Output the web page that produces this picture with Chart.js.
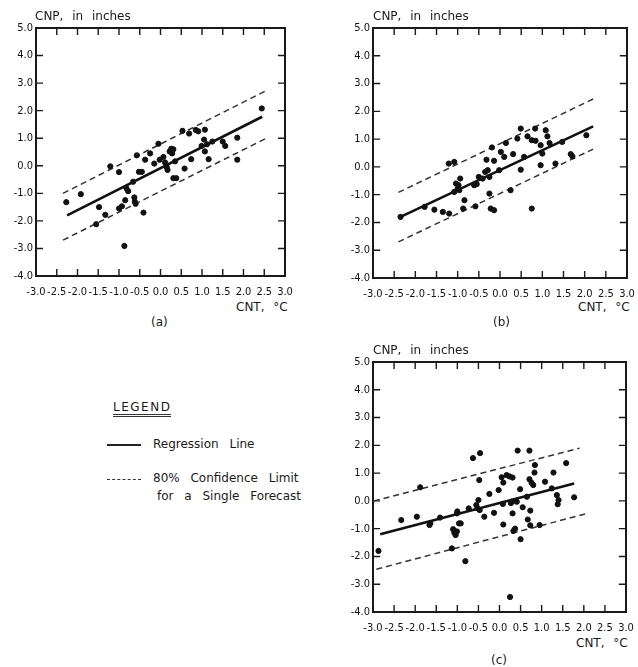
<!DOCTYPE html>
<html>
<head>
<meta charset="utf-8">
<script src="https://cdn.jsdelivr.net/npm/chart.js@4.4.0/dist/chart.umd.min.js"></script>
<style>
  body { margin: 0; background: #fff; width: 638px; height: 667px; position: relative; overflow: hidden;
         font-family: 'DejaVu Sans', sans-serif; color: #1a1a1a; }
  canvas { position: absolute; }
  .t { position: absolute; font-size: 12px; white-space: nowrap; word-spacing: 5px; line-height: 1; }
  .lg { position: absolute; font-size: 12px; white-space: nowrap; word-spacing: 7px; line-height: 1; }
</style>
</head>
<body>
<canvas id="chartA" width="300" height="300" style="left:0;top:0"></canvas>
<canvas id="chartB" width="300" height="300" style="left:337px;top:0"></canvas>
<canvas id="chartC" width="300" height="300" style="left:337px;top:334px"></canvas>

<div class="t" style="left:35px;top:10px">CNP, in inches</div>
<div class="t" style="left:236px;top:301px">CNT, °C</div>
<div class="t" style="left:151px;top:316px">(a)</div>

<div class="t" style="left:373px;top:10px">CNP, in inches</div>
<div class="t" style="left:578px;top:301px">CNT, °C</div>
<div class="t" style="left:493px;top:316px">(b)</div>

<div class="t" style="left:373px;top:344px">CNP, in inches</div>
<div class="t" style="left:576px;top:637px">CNT, °C</div>
<div class="t" style="left:491px;top:654px">(c)</div>

<!-- legend -->
<div class="lg" style="left:113px;top:401px;letter-spacing:1.5px;border-bottom:3px double #333;padding-bottom:1px">LEGEND</div>
<div style="position:absolute;left:107px;top:444px;width:34px;border-top:2.5px solid #222"></div>
<div class="lg" style="left:153px;top:438px">Regression Line</div>
<div style="position:absolute;left:107px;top:479px;width:34px;border-top:1.5px dashed #333"></div>
<div class="lg" style="left:153px;top:472px">80% Confidence Limit</div>
<div class="lg" style="left:157px;top:490px">for a Single Forecast</div>

<script>
// tick labels
var xTickVals = [-3, -2.5, -2, -1.5, -1, -0.5, 0, 0.5, 1, 1.5, 2, 2.5, 3];
var xTickLabels = ['-3.0', '-2.5', '-2.0', '-1.5', '-1.0', '-0.5', '0.0', '0.5', '1.0', '1.5', '2.0', '2.5', '3.0'];
var yTickVals = [-4, -3, -2, -1, 0, 1, 2, 3, 4, 5];
var yTickLabels = ['-4.0', '-3.0', '-2.0', '-1.0', '0.0', '1.0', '2.0', '3.0', '4.0', '5.0'];

// (a)
var cntA = [-2.27,-1.92,-1.48,-1.55,-1.33,-1.21,-1.0,-0.87,-1.0,-0.93,-0.85,-0.82,-0.78,-0.66,-0.63,-0.62,-0.6,-0.57,-0.52,-0.45,-0.41,-0.37,-0.25,-0.15,-0.05,-0.02,0.07,0.11,0.15,0.17,0.22,0.26,0.31,0.28,0.35,0.31,0.38,0.58,0.53,0.69,0.74,0.85,0.91,1.07,1.05,1.07,1.16,0.99,1.12,1.25,1.5,1.56,1.85,1.85,2.44];
var cnpA = [-1.32,-1.03,-1.50,-2.12,-1.78,-0.02,-0.23,-2.91,-1.55,-1.47,-1.25,-0.82,-0.92,-0.58,-1.15,-1.30,-1.38,0.38,-0.22,-0.22,-1.70,0.22,0.45,0.08,0.8,0.22,0.32,0.12,-0.05,-0.15,0.52,0.62,0.6,0.45,0.16,-0.45,-0.45,-0.1,1.27,1.17,0.24,1.3,1.25,1.31,0.95,0.52,0.24,0.72,0.78,0.88,0.88,0.72,1.02,0.22,2.08];
var regA = [[-2.25, -1.8], [2.45, 1.78]];
var upperA = [[-2.35, -1.0], [2.55, 2.73]];
var lowerA = [[-2.35, -2.7], [2.55, 1.0]];

// (b)
var cntB = [-2.35,-1.78,-1.55,-1.35,-1.20,-1.21,-1.08,-0.94,-1.04,-1.0,-0.96,-1.08,-0.84,-0.87,-0.58,-0.55,-0.41,-0.35,-0.29,-0.25,-0.32,-0.14,-0.02,-0.25,-0.22,-0.14,-0.19,0.02,0.14,0.10,0.31,0.25,0.41,0.49,0.49,0.65,0.75,0.84,0.83,0.75,0.96,1.0,0.96,1.08,1.12,1.17,1.31,1.47,1.67,1.71,2.04,-0.61,-0.50,0.57,-0.98];
var cnpB = [-1.80,-1.44,-1.54,-1.62,-1.68,0.12,0.18,-0.42,-0.60,-0.78,-0.84,-0.90,-1.20,-1.50,-1.42,-0.62,-0.42,-0.18,-0.12,-0.36,0.26,0.22,-0.12,-0.96,-1.50,-1.56,0.70,0.54,0.86,0.36,0.46,-0.84,1.02,1.38,-0.10,1.10,0.96,0.94,1.38,-1.50,0.78,0.48,0.06,1.32,1.10,0.86,0.12,0.90,0.46,0.38,1.14,-0.66,-0.36,0.36,-0.66];
var regB = [[-2.35, -1.8], [2.2, 1.46]];
var upperB = [[-2.4, -0.92], [2.25, 2.48]];
var lowerB = [[-2.4, -2.7], [2.2, 0.64]];

// (c)
var cntC = [-2.87,-2.33,-1.96,-1.88,-1.66,-1.64,-1.41,-1.13,-1.10,-1.07,-1.04,-1.01,-1.01,-1.0,-0.96,-0.92,-0.81,-0.73,-0.63,-0.55,-0.52,-0.50,-0.48,-0.46,-0.47,-0.36,-0.24,-0.13,-0.02,0.05,0.08,0.09,0.09,0.17,0.24,0.31,0.29,0.27,0.31,0.33,0.37,0.43,0.41,0.49,0.50,0.55,0.65,0.67,0.71,0.76,0.80,0.71,0.73,0.73,0.83,0.84,0.95,1.08,1.24,1.28,1.36,1.40,1.38,1.58,1.77,0.25];
var cnpC = [-1.80,-0.69,-0.57,0.49,-0.87,-0.80,-0.60,-1.71,-1.02,-1.15,-1.23,-1.10,-0.45,-0.38,-0.81,-0.81,-2.17,-0.27,1.54,-0.15,-0.27,0.03,0.75,1.72,-0.33,-0.57,0.25,-0.43,0.39,0.85,-0.11,0.66,-0.85,0.93,0.88,0.84,-0.03,-0.08,-0.45,-1.08,-1.0,1.81,-0.03,0.42,-1.38,-0.23,0.15,-0.67,0.78,0.65,0.57,1.81,-0.35,-0.88,1.02,1.29,-0.87,0.69,0.45,1.02,0.21,0.03,-0.12,1.36,0.13,-3.46];
var regC = [[-2.83, -1.2], [1.77, 0.63]];
var upperC = [[-2.98, 0.0], [1.9, 1.9]];
var lowerC = [[-2.92, -2.46], [2.03, -0.47]];

Chart.defaults.font.family = "'DejaVu Sans Condensed', 'DejaVu Sans', sans-serif";
Chart.defaults.font.size = 11;
Chart.defaults.color = '#111';

function pts(xs, ys) {
  return xs.map(function(x, i) { return { x: x, y: ys[i] }; });
}
function seg(p) {
  return [{ x: p[0][0], y: p[0][1] }, { x: p[1][0], y: p[1][1] }];
}

// inward tick marks as short broken line segments off the frame (lengths in axis units)
var innerX = xTickVals.slice(1, -1);
var innerY = yTickVals.slice(1, -1);
var tickMarks = [];
innerX.forEach(function(v) {
  tickMarks.push({ x: v, y: -4 }, { x: v, y: -3.75 }, { x: v, y: null });
  tickMarks.push({ x: v, y: 5 }, { x: v, y: 4.75 }, { x: v, y: null });
});
innerY.forEach(function(v) {
  tickMarks.push({ x: -3, y: v }, { x: -2.83, y: v }, { x: -2.83, y: null });
  tickMarks.push({ x: 3, y: v }, { x: 2.83, y: v }, { x: 2.83, y: null });
});

var frameBorder = { display: true, color: '#1a1a1a', width: 2 };
function setX(s) { s.ticks = xTickVals.map(function(v) { return { value: v }; }); }
function setY(s) { s.ticks = yTickVals.map(function(v) { return { value: v }; }); }

function makePanel(id, cnt, cnp, reg, upper, lower, pad, xHeight) {
  return new Chart(document.getElementById(id), {
    type: 'scatter',
    data: {
      datasets: [
        { data: pts(cnt, cnp), xAxisID: 'x', yAxisID: 'y', backgroundColor: '#111', borderColor: '#111', pointRadius: 2.6, pointHoverRadius: 2.6 },
        { type: 'line', data: seg(reg), xAxisID: 'x', yAxisID: 'y', borderColor: '#111', borderWidth: 2.6, pointRadius: 0, fill: false },
        { type: 'line', data: seg(upper), xAxisID: 'x', yAxisID: 'y', borderColor: '#333', borderWidth: 1.5, borderDash: [6, 4], pointRadius: 0, fill: false },
        { type: 'line', data: seg(lower), xAxisID: 'x', yAxisID: 'y', borderColor: '#333', borderWidth: 1.5, borderDash: [6, 4], pointRadius: 0, fill: false },
        { type: 'line', data: tickMarks, xAxisID: 'x', yAxisID: 'y', borderColor: '#1a1a1a', borderWidth: 1.4,
          pointRadius: 0, fill: false, spanGaps: false, tension: 0 }
      ]
    },
    options: {
      responsive: false,
      animation: false,
      devicePixelRatio: 1,
      events: [],
      layout: { padding: pad },
      plugins: { legend: { display: false }, tooltip: { enabled: false } },
      scales: {
        x: {
          type: 'linear', position: 'bottom', min: -3, max: 3,
          grid: { display: false, drawTicks: true, tickLength: 10 }, border: frameBorder,
          afterBuildTicks: setX,
          afterFit: function(s) { s.height = xHeight; },
          ticks: { autoSkip: false, maxRotation: 0, padding: 0, color: '#111',
                   callback: function(v, i) { return xTickLabels[i]; } }
        },
        x2: {
          type: 'linear', position: 'top', min: -3, max: 3,
          grid: { display: false, drawTicks: false }, border: frameBorder,
          afterBuildTicks: setX,
          afterFit: function(s) { s.height = 0; },
          ticks: { display: false, padding: 0 }
        },
        y: {
          type: 'linear', position: 'left', min: -4, max: 5,
          grid: { display: false, drawTicks: false }, border: frameBorder,
          afterBuildTicks: setY,
          afterFit: function(s) { s.width = 36; },
          ticks: { padding: 3, color: '#111',
                   callback: function(v, i) { return yTickLabels[i]; } }
        },
        y2: {
          type: 'linear', position: 'right', min: -4, max: 5,
          grid: { display: false, drawTicks: false }, border: frameBorder,
          afterBuildTicks: setY,
          afterFit: function(s) { s.width = 0; },
          ticks: { display: false, padding: 0 }
        }
      }
    }
  });
}

makePanel('chartA', cntA, cnpA, regA, upperA, lowerA, { top: 28, right: 15, left: 0, bottom: 0 }, 24);
makePanel('chartB', cntB, cnpB, regB, upperB, lowerB, { top: 28, right: 10, left: 0, bottom: 0 }, 22);
makePanel('chartC', cntC, cnpC, regC, upperC, lowerC, { top: 28, right: 11, left: 0, bottom: 0 }, 22);
</script>
</body>
</html>
